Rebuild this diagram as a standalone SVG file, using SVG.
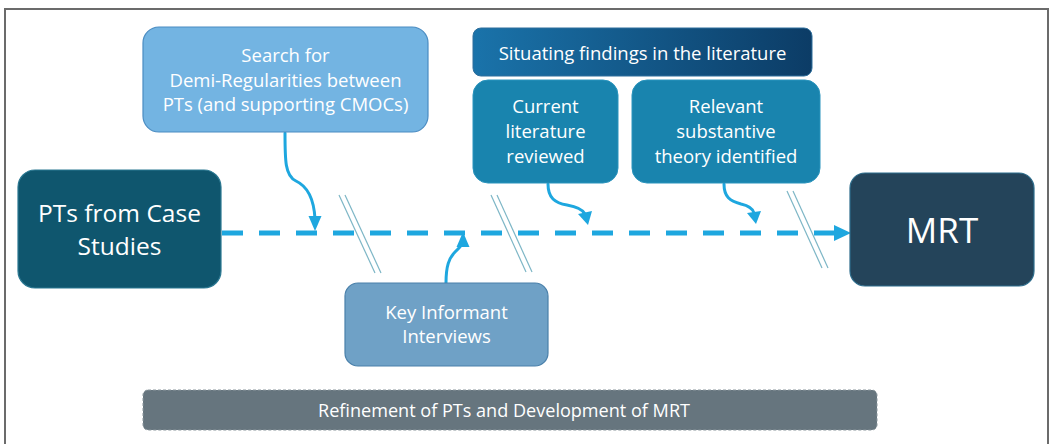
<svg xmlns="http://www.w3.org/2000/svg" width="1049" height="444" viewBox="0 0 1049 444">
  <defs>
    <linearGradient id="gradSituating" x1="0" y1="0" x2="1" y2="0">
      <stop offset="0" stop-color="#1a73aa"/>
      <stop offset="1" stop-color="#0c3c66"/>
    </linearGradient>
  </defs>
  <style>
    .lbl { font-family: "Open Sans", "Noto Sans", sans-serif; fill: #ffffff; text-anchor: middle; }
    .flow { fill: none; stroke: #1ea7df; stroke-width: 5; stroke-dasharray: 21 16; }
    .curve { fill: none; stroke: #1ea7df; stroke-width: 3; stroke-linecap: round; }
    .head { fill: #1ea7df; }
    .brk { stroke: #7db6c6; stroke-width: 1.2; fill: none; }
  </style>

  <!-- page frame -->
  <rect x="0" y="0" width="1049" height="444" fill="#ffffff"/>
  <path d="M5,444 V9 H1048 V444" fill="none" stroke="#6b6b6b" stroke-width="2"/>

  <!-- connectors -->
  <g id="connectors">
    <line class="flow" x1="222" y1="233" x2="836" y2="233"/>
    <polygon class="head" points="834,225 851,233 834,241"/>

    <path class="curve" d="M285,133 C285,160 285,176 296,181 C309,187 314,200 315,219"/>
    <polygon class="head" points="308.5,216 321.5,216 315,231"/>

    <path class="curve" d="M446,283 C446,266 449,258 455,252 C461,246 463,243 463,245"/>
    <polygon class="head" points="456.5,247 469.5,247 463,232"/>

    <path class="curve" d="M548,184 C548,198 555,203 567,205 C578,207 583,210 585,214"/>
    <polygon class="head" points="578,214 592,211 588,225"/>

    <path class="curve" d="M724,184 C724,197 730,201 741,204 C750,206 753,209 754,213"/>
    <polygon class="head" points="747,213 761,211 756,224"/>

    <!-- break marks on the flow line -->
    <line class="brk" x1="339" y1="195" x2="375" y2="273"/>
    <line class="brk" x1="345" y1="195" x2="381" y2="273"/>
    <line class="brk" x1="491" y1="195" x2="526" y2="272"/>
    <line class="brk" x1="497" y1="195" x2="532" y2="272"/>
    <line class="brk" x1="787" y1="191" x2="822" y2="268"/>
    <line class="brk" x1="793" y1="191" x2="828" y2="268"/>
  </g>

  <!-- nodes -->
  <g id="search">
    <rect x="143" y="27" width="285" height="105" rx="16" fill="#73b4e2" stroke="#4a8cc2" stroke-width="1.2"/>
    <text class="lbl" font-size="18.5" x="285.5" y="62">Search for</text>
    <text class="lbl" font-size="18.5" x="285.5" y="86.5">Demi-Regularities between</text>
    <text class="lbl" font-size="18.5" x="285.5" y="111">PTs (and supporting CMOCs)</text>
  </g>

  <g id="pts">
    <rect x="18" y="170" width="203" height="118" rx="17" fill="#0f566e" stroke="#2b7892" stroke-width="1.2"/>
    <text class="lbl" font-size="24.5" x="119.5" y="222">PTs from Case</text>
    <text class="lbl" font-size="24.5" x="119.5" y="255">Studies</text>
  </g>

  <g id="key-informant">
    <rect x="345" y="283" width="203" height="83" rx="13" fill="#6fa1c6" stroke="#4a80aa" stroke-width="1.2"/>
    <text class="lbl" font-size="18.5" x="446.5" y="319">Key Informant</text>
    <text class="lbl" font-size="18.5" x="446.5" y="343">Interviews</text>
  </g>

  <g id="situating">
    <rect x="473" y="28" width="339" height="48" rx="8" fill="url(#gradSituating)" stroke="#2f6f9c" stroke-width="1"/>
    <text class="lbl" font-size="18.5" x="642.5" y="60">Situating findings in the literature</text>
  </g>

  <g id="current-literature">
    <rect x="473" y="80" width="145" height="103" rx="15" fill="#1984ae" stroke="#2a94bd" stroke-width="1"/>
    <text class="lbl" font-size="18.5" x="545.5" y="113">Current</text>
    <text class="lbl" font-size="18.5" x="545.5" y="138">literature</text>
    <text class="lbl" font-size="18.5" x="545.5" y="163">reviewed</text>
  </g>

  <g id="substantive-theory">
    <rect x="632" y="80" width="188" height="103" rx="15" fill="#1984ae" stroke="#2a94bd" stroke-width="1"/>
    <text class="lbl" font-size="18.5" x="726" y="113">Relevant</text>
    <text class="lbl" font-size="18.5" x="726" y="138">substantive</text>
    <text class="lbl" font-size="18.5" x="726" y="163">theory identified</text>
  </g>

  <g id="mrt">
    <rect x="850" y="173" width="184" height="113" rx="15" fill="#24445a" stroke="#2d6d8c" stroke-width="1.2"/>
    <text class="lbl" font-size="35" x="942" y="243">MRT</text>
  </g>

  <g id="refinement">
    <rect x="143" y="390" width="734" height="40" rx="5" fill="#66757e" stroke="#8a969c" stroke-width="1" stroke-dasharray="3 2"/>
    <text class="lbl" font-size="18.5" x="504" y="417" textLength="372" lengthAdjust="spacingAndGlyphs">Refinement of PTs and Development of MRT</text>
  </g>
</svg>
